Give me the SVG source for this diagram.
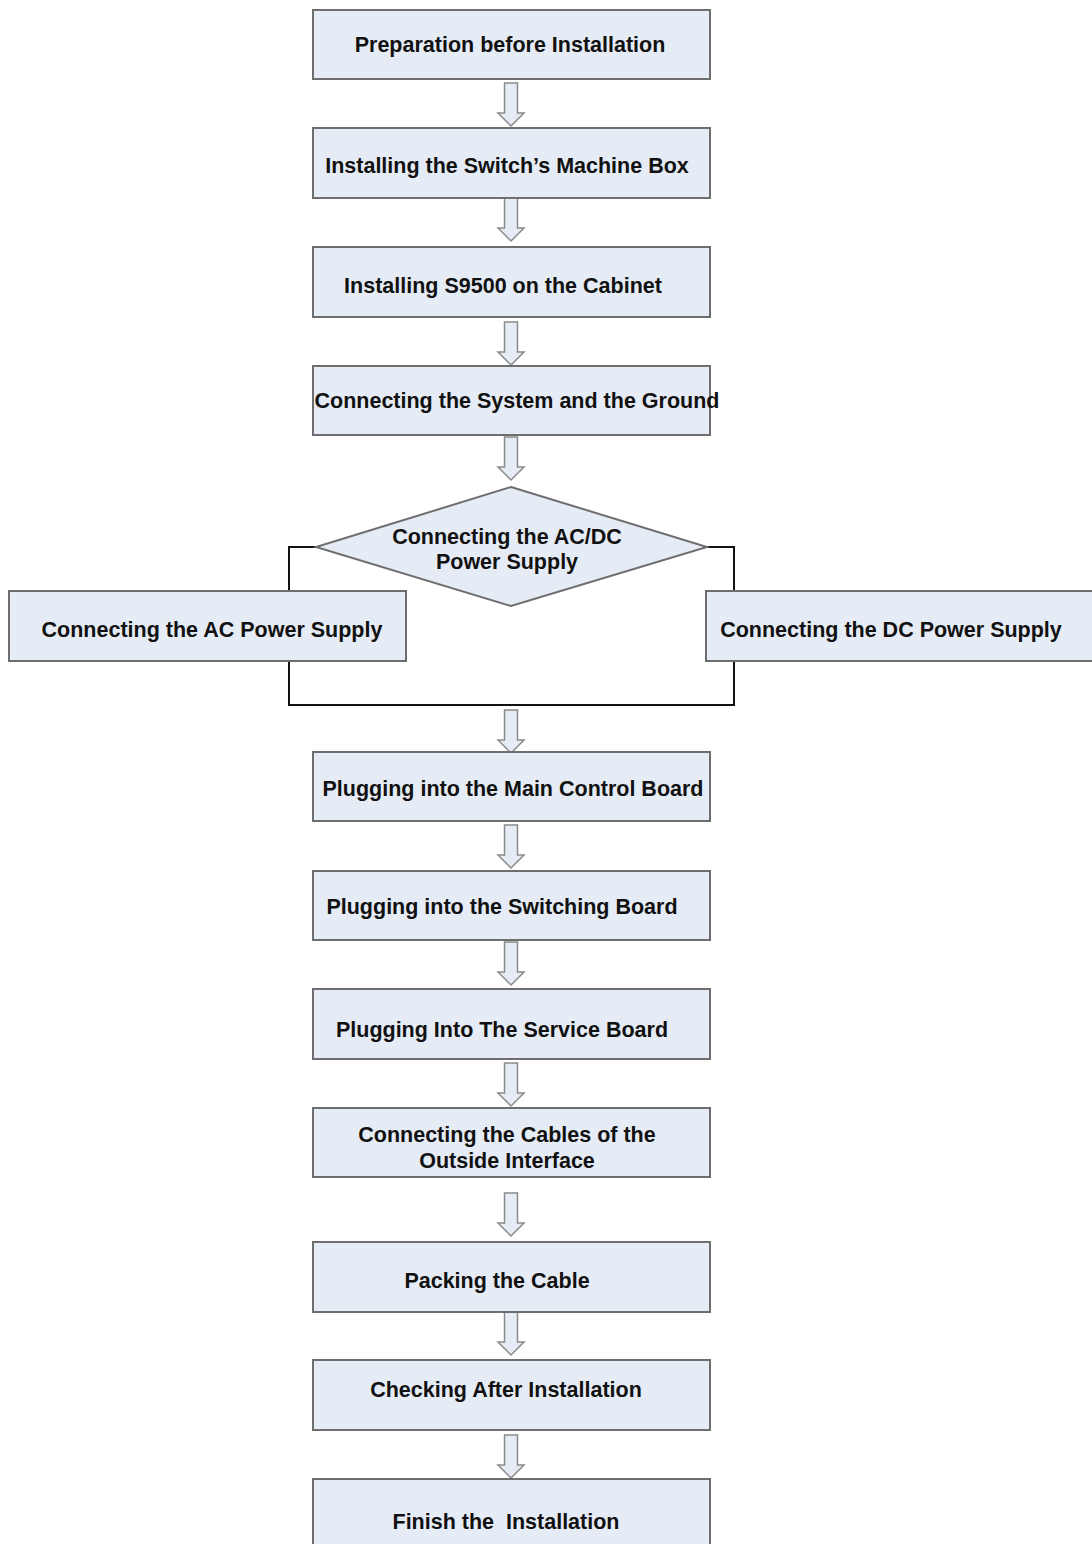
<svg xmlns="http://www.w3.org/2000/svg" xmlns:xlink="http://www.w3.org/1999/xlink" width="1092" height="1544" viewBox="0 0 1092 1544">
<style>
.box{fill:#e6ecf6;stroke:#6e6e6e;stroke-width:2}
.t{font-family:"Liberation Sans",Arial,sans-serif;font-weight:bold;font-size:21.5px;fill:#111;text-anchor:middle}
.arr{fill:#e6ecf6;stroke:#8a8a8a;stroke-width:1.5;stroke-linejoin:miter}
.ln{fill:none;stroke:#111;stroke-width:2}
</style>
<defs>
<path id="ar" d="M-6.5,0 L6.5,0 L6.5,30 L13,30 L0,43 L-13,30 L-6.5,30 Z"/>
</defs>
<rect width="1092" height="1544" fill="#fff"/>
<g id="connectors">
<use href="#ar" class="arr" transform="translate(511,83)"/>
<use href="#ar" class="arr" transform="translate(511,198)"/>
<use href="#ar" class="arr" transform="translate(511,322)"/>
<use href="#ar" class="arr" transform="translate(511,437)"/>
<use href="#ar" class="arr" transform="translate(511,710)"/>
<use href="#ar" class="arr" transform="translate(511,825)"/>
<use href="#ar" class="arr" transform="translate(511,942)"/>
<use href="#ar" class="arr" transform="translate(511,1063)"/>
<use href="#ar" class="arr" transform="translate(511,1193)"/>
<use href="#ar" class="arr" transform="translate(511,1312)"/>
<use href="#ar" class="arr" transform="translate(511,1435)"/>
<path class="ln" d="M316,547 H289 V591 M289,661 V705 H734 V661 M734,591 V547 H707"/>
</g>
<g id="n1"><rect class="box" x="313" y="10" width="397" height="69"/><text class="t" x="510" y="52">Preparation before Installation</text></g>
<g id="n2"><rect class="box" x="313" y="128" width="397" height="70"/><text class="t" x="507" y="173">Installing the Switch’s Machine Box</text></g>
<g id="n3"><rect class="box" x="313" y="247" width="397" height="70"/><text class="t" x="503" y="293">Installing S9500 on the Cabinet</text></g>
<g id="n4"><rect class="box" x="313" y="366" width="397" height="69"/><text class="t" x="517" y="408">Connecting the System and the Ground</text></g>
<g id="d1"><polygon class="box" points="511,487 707,547 511,606 316,547"/><text class="t" x="507" y="544">Connecting the AC/DC</text><text class="t" x="507" y="569">Power Supply</text></g>
<g id="ac"><rect class="box" x="9" y="591" width="397" height="70"/><text class="t" x="212" y="637">Connecting the AC Power Supply</text></g>
<g id="dc"><rect class="box" x="706" y="591" width="400" height="70"/><text class="t" x="891" y="637">Connecting the DC Power Supply</text></g>
<g id="n5"><rect class="box" x="313" y="752" width="397" height="69"/><text class="t" x="513" y="796">Plugging into the Main Control Board</text></g>
<g id="n6"><rect class="box" x="313" y="871" width="397" height="69"/><text class="t" x="502" y="914">Plugging into the Switching Board</text></g>
<g id="n7"><rect class="box" x="313" y="989" width="397" height="70"/><text class="t" x="502" y="1037">Plugging Into The Service Board</text></g>
<g id="n8"><rect class="box" x="313" y="1108" width="397" height="69"/><text class="t" x="507" y="1142">Connecting the Cables of the</text><text class="t" x="507" y="1168">Outside Interface</text></g>
<g id="n9"><rect class="box" x="313" y="1242" width="397" height="70"/><text class="t" x="497" y="1288">Packing the Cable</text></g>
<g id="n10"><rect class="box" x="313" y="1360" width="397" height="70"/><text class="t" x="506" y="1397">Checking After Installation</text></g>
<g id="n11"><rect class="box" x="313" y="1479" width="397" height="80"/><text class="t" x="506" y="1529" xml:space="preserve">Finish the  Installation</text></g>
</svg>
